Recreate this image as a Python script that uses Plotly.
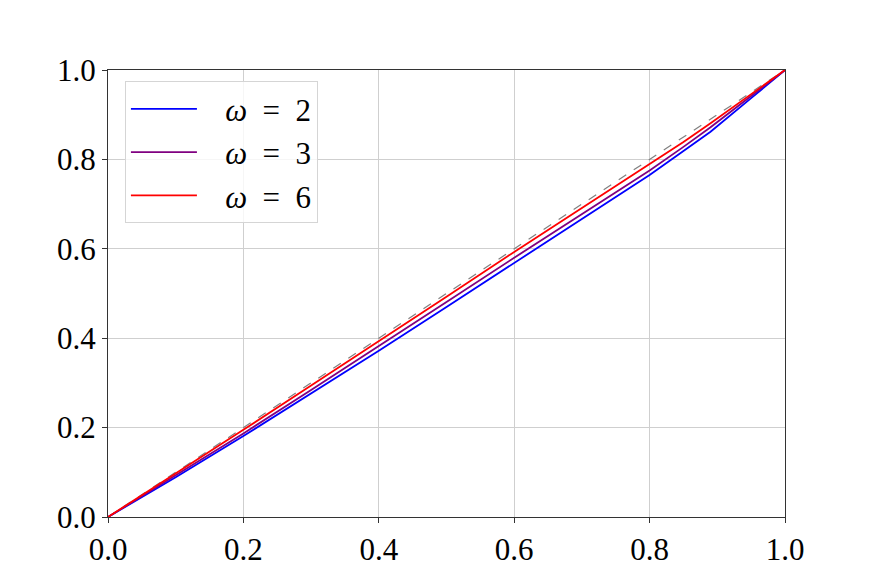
import plotly.graph_objects as go

# sample points along the x axis
x_vals = [0.0, 0.1, 0.2, 0.3, 0.4, 0.5, 0.6, 0.7, 0.8, 0.85, 0.89, 0.95, 1.0]

# curves per omega
y_omega2 = [0.0, 0.089, 0.181, 0.276, 0.372, 0.470, 0.568, 0.666, 0.765, 0.819, 0.862, 0.937, 1.0]
y_omega3 = [0.0, 0.093, 0.187, 0.284, 0.382, 0.481, 0.580, 0.678, 0.775, 0.828, 0.872, 0.942, 1.0]
y_omega6 = [0.0, 0.097, 0.195, 0.294, 0.393, 0.493, 0.593, 0.691, 0.788, 0.839, 0.881, 0.946, 1.0]

# reference diagonal
diag_x = [0.0, 1.0]
diag_y = [0.0, 1.0]

tick_vals = [0.0, 0.2, 0.4, 0.6, 0.8, 1.0]
tick_text = ["0.0", "0.2", "0.4", "0.6", "0.8", "1.0"]

FONT = "Liberation Serif"
SP = "\u00a0"


def label(w):
    return f"{SP * 3}<i>ω</i>{SP * 2}={SP * 2}{w}"


fig = go.Figure()
fig.add_trace(go.Scatter(
    x=diag_x, y=diag_y, mode="lines",
    line=dict(color="#808080", width=1.2, dash="dash"),
    showlegend=False,
))
fig.add_trace(go.Scatter(
    x=x_vals, y=y_omega2, mode="lines", name=label(2),
    line=dict(color="blue", width=1.8),
))
fig.add_trace(go.Scatter(
    x=x_vals, y=y_omega3, mode="lines", name=label(3),
    line=dict(color="purple", width=1.8),
))
fig.add_trace(go.Scatter(
    x=x_vals, y=y_omega6, mode="lines", name=label(6),
    line=dict(color="red", width=1.8),
))

axis_style = dict(
    range=[0, 1],
    tickvals=tick_vals,
    ticktext=tick_text,
    showgrid=True,
    gridcolor="#cfcfcf",
    gridwidth=1,
    zeroline=False,
    showline=True,
    linecolor="#333333",
    linewidth=1,
    mirror=True,
    ticks="outside",
    ticklen=5,
    tickcolor="#333333",
    tickfont=dict(family=FONT, size=31, color="black"),
)

# the page body adds an 8px offset, so margins are trimmed to compensate
fig.update_layout(
    width=872,
    height=581,
    paper_bgcolor="white",
    plot_bgcolor="white",
    margin=dict(l=100, r=95, t=62, b=72),
    xaxis=axis_style,
    yaxis=axis_style,
    font=dict(family=FONT, size=31, color="black"),
    legend=dict(
        x=0.025, y=0.975, xanchor="left", yanchor="top",
        bgcolor="rgba(255,255,255,0.8)",
        bordercolor="#d5d5d5",
        borderwidth=1,
        font=dict(family=FONT, size=31),
        itemwidth=66,
        tracegroupgap=0,
    ),
)

fig.write_html("out.html")
